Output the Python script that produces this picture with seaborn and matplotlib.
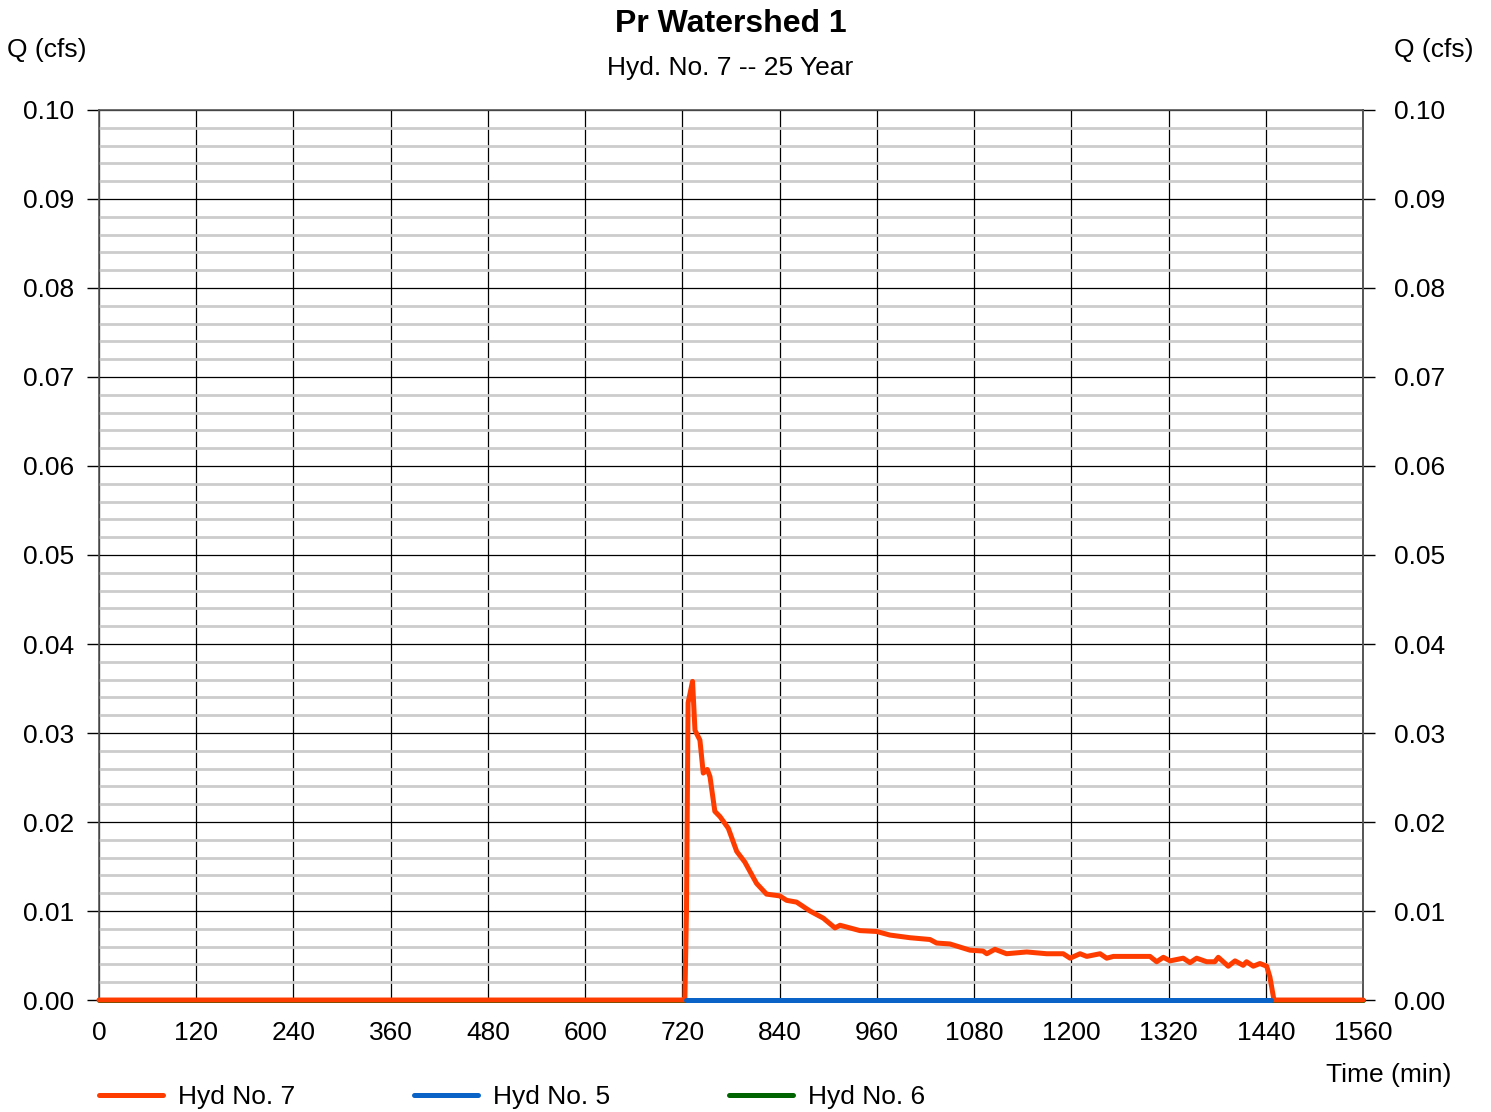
import numpy as np
import pandas as pd
import matplotlib
matplotlib.use("Agg")
import matplotlib.pyplot as plt
import seaborn as sns
from matplotlib.ticker import MultipleLocator

# ---- data ----
hyd7_t = [0, 720, 723, 725, 727, 732.5, 735.5, 741.6, 745.7, 750.7, 754, 760, 766.4, 776.6,
          787, 797, 811.5, 823.8, 840, 848.6, 860.9, 877.4, 893.8, 908.3, 914.5, 926.8, 939,
          959.7, 976, 1000.8, 1025.5, 1033.7, 1050, 1074.9, 1091, 1095.6, 1105.7, 1120,
          1144.8, 1169.5, 1190, 1198.4, 1210.7, 1219, 1235.4, 1243.6, 1251.8, 1297, 1305.3,
          1313.5, 1321.8, 1338, 1346.4, 1354.6, 1367, 1377, 1381.3, 1393.6, 1402, 1412,
          1416.2, 1424.5, 1432.7, 1441, 1445, 1450, 1560]
hyd7_q = [0, 0, 0, 0.010, 0.0334, 0.0358, 0.0303, 0.0292, 0.0255, 0.0259, 0.0251, 0.0212,
          0.0206, 0.0193, 0.0167, 0.0155, 0.0131, 0.0119, 0.0117, 0.0112, 0.0110, 0.0100,
          0.0092, 0.0081, 0.0084, 0.0081, 0.0078, 0.0077, 0.0073, 0.0070, 0.0068, 0.0064,
          0.0063, 0.0056, 0.0055, 0.0052, 0.0057, 0.0052, 0.0054, 0.0052, 0.0052, 0.0047,
          0.0052, 0.0049, 0.0052, 0.0047, 0.0049, 0.0049, 0.0043, 0.0048, 0.0044, 0.0047,
          0.0042, 0.0047, 0.0043, 0.0043, 0.0048, 0.0038, 0.0044, 0.0039, 0.0043, 0.0038,
          0.0041, 0.0038, 0.0026, 0.0, 0.0]
hyd5_t = [724, 1446]
hyd5_q = [0.0, 0.0]
hyd6_t = [0, 1560]
hyd6_q = [0.0, 0.0]

x_ticks = [0, 120, 240, 360, 480, 600, 720, 840, 960, 1080, 1200, 1320, 1440, 1560]
y_ticks = [0.00, 0.01, 0.02, 0.03, 0.04, 0.05, 0.06, 0.07, 0.08, 0.09, 0.10]

title = "Pr Watershed 1"
subtitle = "Hyd. No. 7 -- 25 Year"

sns.set_theme(style="white")
plt.rcParams['font.family'] = ['Liberation Sans', 'DejaVu Sans']
plt.rcParams['text.color'] = 'black'
plt.rcParams['xtick.color'] = 'black'
plt.rcParams['ytick.color'] = 'black'
plt.rcParams['xtick.labelcolor'] = 'black'
plt.rcParams['ytick.labelcolor'] = 'black'
FS = 19

fig = plt.figure(figsize=(14.91, 11.12), dpi=100)
ax = fig.add_axes([0.0664, 0.1007, 0.8478, 0.8004])

df6 = pd.DataFrame({"t": hyd6_t, "q": hyd6_q})
df5 = pd.DataFrame({"t": hyd5_t, "q": hyd5_q})
df7 = pd.DataFrame({"t": hyd7_t, "q": hyd7_q})

sns.lineplot(data=df6, x="t", y="q", ax=ax, color="#006400", lw=3.6, label="Hyd No. 6", zorder=3)
sns.lineplot(data=df7, x="t", y="q", ax=ax, color="#FF3C00", lw=3.6, label="Hyd No. 7", zorder=4)
sns.lineplot(data=df5, x="t", y="q", ax=ax, color="#0A64C8", lw=3.6, label="Hyd No. 5", zorder=5)
for ln in ax.get_lines():
    ln.set_clip_on(False)

ax.set_xlim(0, 1560)
ax.set_ylim(0, 0.10)
ax.set_xticks(x_ticks)
ax.set_xticklabels([str(v) for v in x_ticks], fontsize=FS)
ax.set_yticks(y_ticks)
ax.set_yticklabels([f"{v:.2f}" for v in y_ticks], fontsize=FS)
ax.yaxis.set_minor_locator(MultipleLocator(0.002))
ax.grid(which="minor", axis="y", color="#cccccc", lw=2.0, zorder=0)
ax.grid(which="major", axis="both", color="black", lw=0.9, zorder=1)
ax.set_axisbelow(True)
ax.tick_params(axis="y", which="major", left=True, right=False, labelleft=True, labelright=False,
               length=8.6, width=1, color="black", pad=9)
ax.tick_params(axis="y", which="minor", left=False, right=False)
ax.tick_params(axis="x", which="major", bottom=False, pad=9)
for s in ax.spines.values():
    s.set_color("#555555")
    s.set_linewidth(1.2)
ax.set_xlabel("")
ax.set_ylabel("")

ax2 = ax.secondary_yaxis("right")
ax2.set_yticks(y_ticks)
ax2.set_yticklabels([f"{v:.2f}" for v in y_ticks], fontsize=FS)
ax2.tick_params(axis="y", which="both", length=8.6, width=1, color="black", pad=14)
ax2.yaxis.set_minor_locator(plt.NullLocator())
ax2.spines["right"].set_color("#555555")
ax2.spines["right"].set_linewidth(1.2)

handles, labels = ax.get_legend_handles_labels()
order = [labels.index(l) for l in ["Hyd No. 7", "Hyd No. 5", "Hyd No. 6"]]
ax.get_legend().remove()
fig.legend([handles[i] for i in order], [labels[i] for i in order], loc="center left",
           bbox_to_anchor=(0.0664, 0.0135), ncol=3, frameon=False, fontsize=FS,
           handlelength=2.42, handletextpad=0.57, columnspacing=4.5, borderpad=0,
           borderaxespad=0)

fig.text(0.490, 0.978, title, ha="center", va="center", fontsize=23, fontweight="bold")
fig.text(0.490, 0.939, subtitle, ha="center", va="center", fontsize=FS)
fig.text(0.0315, 0.955, "Q (cfs)", ha="center", va="center", fontsize=FS)
fig.text(0.9615, 0.955, "Q (cfs)", ha="center", va="center", fontsize=FS)
fig.text(0.9316, 0.0333, "Time (min)", ha="center", va="center", fontsize=FS)

fig.savefig("out.png", dpi=100)
